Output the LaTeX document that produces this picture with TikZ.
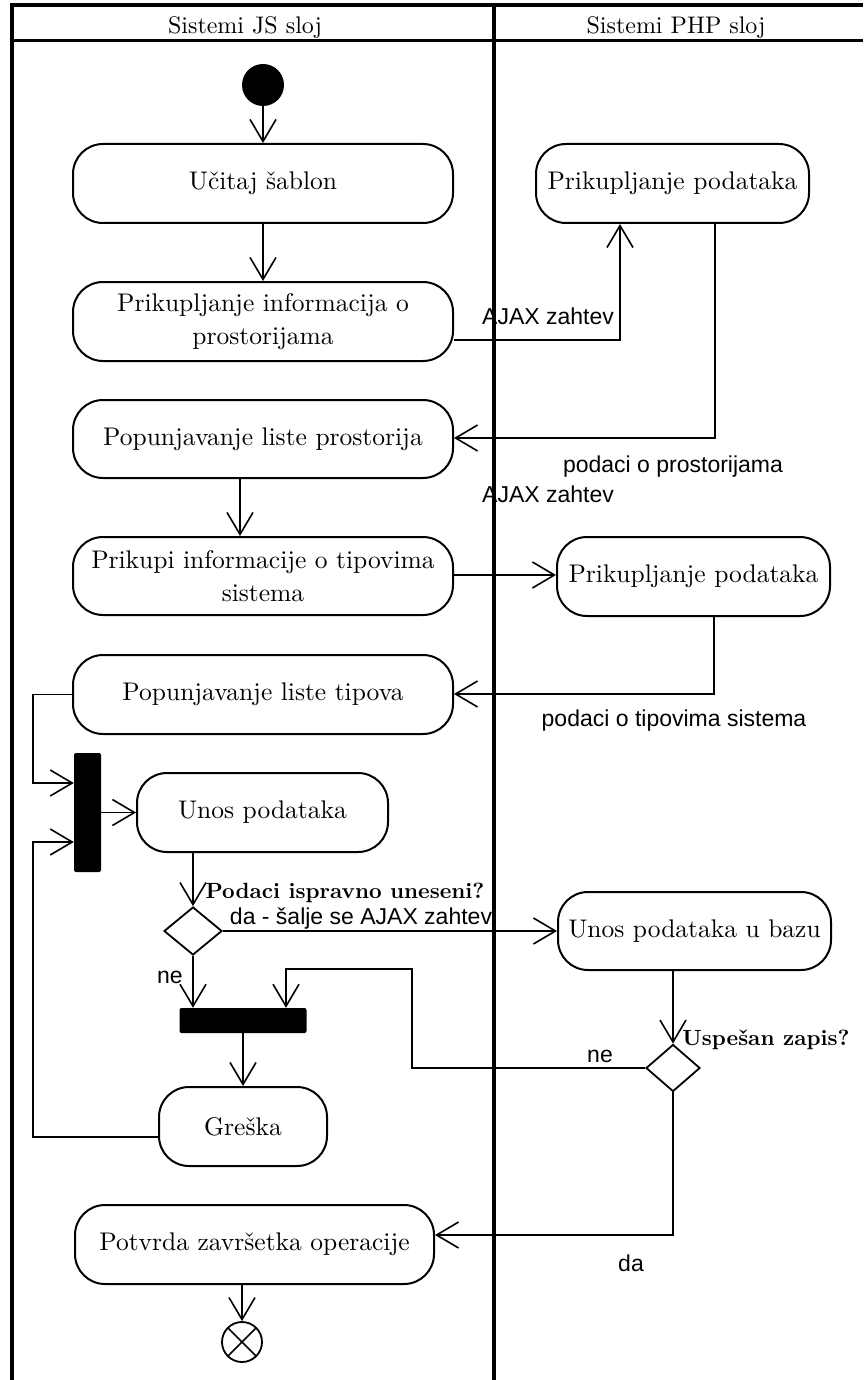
\documentclass[tikz,border=0pt]{standalone}
\usepackage{fontspec}
\setmainfont{lmroman10-regular.otf}[BoldFont=lmroman10-bold.otf, ItalicFont=lmroman10-italic.otf]
\newfontfamily\lblfont{Liberation Sans}
\usetikzlibrary{arrows.meta,shapes.geometric}
\begin{document}
\begin{tikzpicture}[x=1pt,y=-1pt,
  act/.style={draw, line width=2pt, rounded corners=30pt, align=center, inner sep=0pt,
    minimum height=79pt, font=\fontsize{25.5}{33}\selectfont},
  bar/.style={fill=black, rounded corners=2pt, inner sep=0pt},
  choice/.style={draw, diamond, line width=1.8pt, inner sep=0pt},
  flow/.style={line width=1.6pt, -{Straight Barb[length=22pt,width=26pt]}},
  lbl/.style={font=\lblfont\fontsize{23}{27}\selectfont, inner sep=0pt},
  guard/.style={font=\bfseries\fontsize{22}{26}\selectfont, inner sep=0pt},
  head/.style={font=\fontsize{24}{28}\selectfont, inner sep=0pt, anchor=base},
  lane/.style={line width=3.5pt},
]
\useasboundingbox (0,0) rectangle (863,1380);

% swimlane frame
\draw[lane] (12,5) -- (863,5);
\draw[lane] (12,40.5) -- (863,40.5);
\draw[lane] (12,3.5) -- (12,1380);
\draw[lane] (494,3.5) -- (494,1380);
\node[head] (hjs) at (245,34) {Sistemi JS sloj};
\node[head] (hphp) at (676,34) {Sistemi PHP sloj};

% activities
\node[circle, fill=black, minimum size=42pt, inner sep=0pt] (start) at (263,85) {};
\node[act, minimum width=380pt] (b1) at (263,183.5) {Učitaj šablon};
\node[act, minimum width=380pt] (b2) at (263,321.5) {Prikupljanje informacija o\\prostorijama};
\node[act, minimum width=273pt] (b3) at (672.5,183.5) {Prikupljanje podataka};
\node[act, minimum width=380pt, minimum height=78pt] (b4) at (263,439) {Popunjavanje liste prostorija};
\node[act, minimum width=380pt, minimum height=78pt] (b5) at (263,576) {Prikupi informacije o tipovima\\sistema};
\node[act, minimum width=273pt] (b6) at (693.5,576.5) {Prikupljanje podataka};
\node[act, minimum width=380pt] (b7) at (263,694.5) {Popunjavanje liste tipova};
\node[bar, minimum width=27pt, minimum height=119pt] (fork) at (87.5,812.5) {};
\node[act, minimum width=251pt] (b8) at (262.5,812.5) {Unos podataka};
\node[choice, minimum width=58pt, minimum height=48pt] (d1) at (193,931) {};
\node[act, minimum width=273pt, minimum height=78pt] (b9) at (694.5,931) {Unos podataka u bazu};
\node[bar, minimum width=127pt, minimum height=25pt] (join) at (243,1020.5) {};
\node[choice, minimum width=54pt, minimum height=47pt] (d2) at (673,1068) {};
\node[act, minimum width=168pt] (b10) at (243,1126.5) {Greška};
\node[act, minimum width=359pt] (b11) at (254.5,1244.5) {Potvrda završetka operacije};
\node[circle, draw, line width=1.8pt, minimum size=40pt, inner sep=0pt,
  path picture={\draw[line width=1.6pt]
    (path picture bounding box.north west) -- (path picture bounding box.south east)
    (path picture bounding box.north east) -- (path picture bounding box.south west);}]
  (end) at (242,1342) {};

% labels
\node[lbl] (l1) at (548,316) {AJAX zahtev};
\node[lbl] (l2) at (673,467) {podaci o prostorijama};
\node[lbl] (l3) at (548,494) {AJAX zahtev};
\node[lbl] (l4) at (674,721) {podaci o tipovima sistema};
\node[guard] (g1) at (345,893) {Podaci ispravno uneseni?};
\node[lbl] (l5) at (361,919) {da - šalje se AJAX zahtev};
\node[lbl] (l6) at (170,977) {ne};
\node[guard] (g2) at (766,1040) {Uspešan zapis?};
\node[lbl] (l7) at (600,1056) {ne};
\node[lbl] (l8) at (631,1263) {da};

% control flow
\draw[flow] (start) -- (b1);
\draw[flow] (b1) -- (b2);
\draw[flow] (b2.east |- 0,340) -| (b3.south -| 620,0);
\draw[flow] (b3.south -| 715,0) |- (b4.east |- 0,438);
\draw[flow] (b4.south -| 240,0) -- (b5.north -| 240,0);
\draw[flow] (b5.east |- 0,575) -- (b6.west |- 0,575);
\draw[flow] (b6.south -| 714,0) |- (b7.east |- 0,694);
\draw[flow] (b7.west) -| (33,783) -- (fork.west |- 0,783);
\draw[flow] (fork) -- (b8);
\draw[flow] (b8.south -| d1.north) -- (d1.north);
\draw[flow] (d1.east) -- (b9.west |- d1.east);
\draw[flow] (d1.south) -- (join.north -| d1.south);
\draw[flow] (b9.south -| d2.north) -- (d2.north);
\draw[flow] (d2.west) -| (412,969) -| (join.north -| 286,0);
\draw[flow] (join.south -| b10.north) -- (b10.north);
\draw[flow] (b10.west |- 0,1137) -| (33,842) -- (fork.west |- 0,842);
\draw[flow] (d2.south) |- (b11.east |- 0,1235);
\draw[flow] (b11.south -| end.north) -- (end.north);
\end{tikzpicture}
\end{document}
